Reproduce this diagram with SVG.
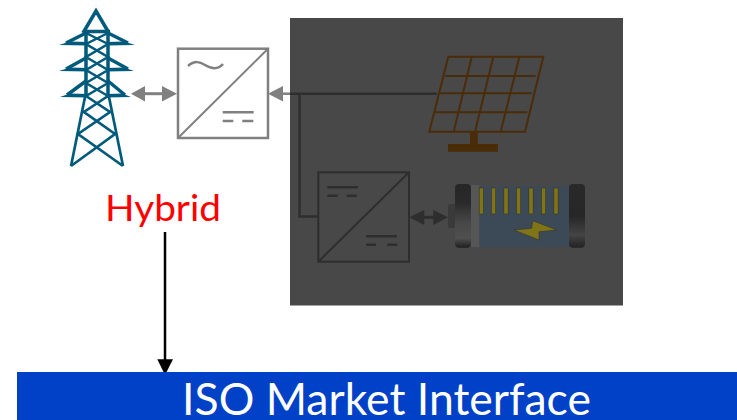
<svg xmlns="http://www.w3.org/2000/svg" width="737" height="420" viewBox="0 0 737 420">
<style>
.tw{fill:none;stroke:#005a7c;stroke-linejoin:miter}
.gc{fill:none;stroke:#808080;stroke-width:2.500}
.dc{fill:none;stroke:#2e2e2e;stroke-width:2.500}
.sol{fill:none;stroke:#4a2c08;stroke-width:2}
.bar{fill:#7f7418;stroke:#2e2e22;stroke-width:.5}
text{font-family:"Lato","Open Sans","Liberation Sans",sans-serif}
</style>
<defs>
<linearGradient id="capL" x1="0" y1="0" x2="0" y2="1"><stop offset="0" stop-color="#262626"/><stop offset=".3" stop-color="#2a2a2a"/><stop offset=".6" stop-color="#474747"/><stop offset=".85" stop-color="#505050"/><stop offset="1" stop-color="#1e1e1e"/></linearGradient>
<linearGradient id="capR" x1="0" y1="0" x2="0" y2="1"><stop offset="0" stop-color="#2a2a2a"/><stop offset=".5" stop-color="#262626"/><stop offset=".8" stop-color="#444"/><stop offset="1" stop-color="#222"/></linearGradient>
</defs>
<rect width="737" height="420" fill="#fff"/>
<rect id="shade" x="290" y="18" width="333" height="287.500" fill="#484848"/>
<g id="connectors">
<path class="gc" style="stroke-width:3" d="M143,93.700H165"/>
<path fill="#808080" d="M131,93.700L145,86V101.500ZM177,93.700L162,86V101.500Z"/>
<path fill="#808080" d="M268,93.700L283,86V101.500Z"/>
<path class="gc" d="M282,93.700H290"/>
<path class="dc" d="M290,93.700H437M299.500,93.700V216.500H318"/>
<path class="dc" style="stroke-width:3" d="M420,217.300H438"/>
<path fill="#2e2e2e" d="M409.300,217.300L424.300,210V225ZM448,217.300L433.300,210V225Z"/>
<path fill="none" stroke="#000" stroke-width="2.500" d="M165,232V362"/>
<path fill="#000" d="M157.300,359.300H173L165,375Z"/>
</g>
<g id="tower">
<path class="tw" stroke-width="3.500" d="M83,33L96,11L109,33M84,31.500H110"/>
<path class="tw" stroke-width="3.500" d="M86,30V96M108,30V96"/>
<path class="tw" stroke-width="3.500" d="M86,33L66,43M108,33L128,43M86,58L66,69M108,58L128,69M86,81L67,95M108,81L125,95"/>
<path fill="#005a7c" d="M59,45L70,41.500L88,42V45.500ZM135,45L124,41.500L106,42V45.500ZM59,71L70,67.500L88,68V71.500ZM134,71L124,67.500L106,68V71.500ZM60,97L70,93.500L88,94V97.500ZM131,97L122,93.500L106,94V97.500Z"/>
<path class="tw" stroke-width="2.500" d="M86,33L108,44L86,57L108,70L86,83L108,96M108,33L86,44L108,57L86,70L108,83L86,96"/>
<path class="tw" stroke-width="2.700" d="M85,97L71,166M109,97L123,166M71,166L115,134L84,112L108,96M123,166L78,134L110,112L86,96"/>
</g>
<g id="converter-ac-dc">
<rect class="gc" x="178" y="48.700" width="90" height="89.300"/>
<path class="gc" style="stroke-width:2" d="M178,138L268,48.700"/>
<path class="gc" d="M188,66C195,60 200,62 205,65S217,71 223,64M222.700,112.300H253.700"/>
<path class="gc" d="M222.700,121H233.300M242.300,121H253.300"/>
</g>
<g id="solar-panel">
<path class="sol" d="M448.300,56.700H543.300L525,131.700H429.300ZM445,76H535.700M440,93.300H531.700M435,112.300H527.300M471.700,57L453.700,131.700M493.300,57L475,131.700M519.300,57L500.700,131.700"/>
<path fill="#4a2c08" d="M470,132H477.700V144H498V151.700H448V144H470Z"/>
</g>
<g id="converter-dc-dc">
<rect class="dc" style="stroke-width:2" x="318.300" y="172.300" width="90.700" height="89.400"/>
<path class="dc" style="stroke-width:2" d="M318.300,261.700L409,172.300"/>
<path class="dc" d="M327.300,187.300H358M327.300,195.700H337.700M346.700,195.700H356.700M366,236.300H397M366,244.700H376M387.300,244.700H397.300"/>
</g>
<g id="battery">
<rect x="448" y="204" width="8" height="24" rx="2" fill="#3a3a3a"/>
<rect x="470" y="186" width="100" height="61" fill="#3c4a58"/>
<rect x="470.700" y="185" width="8.600" height="62" fill="#565656"/>
<rect x="455" y="184" width="16" height="63.700" rx="4" fill="url(#capL)"/>
<rect x="569" y="184" width="16" height="63.700" rx="4" fill="url(#capR)"/>
<rect class="bar" x="479.200" y="188" width="4.200" height="26"/>
<rect class="bar" x="491.500" y="188" width="4.200" height="26"/>
<rect class="bar" x="503.900" y="188" width="4.200" height="26"/>
<rect class="bar" x="516.500" y="188" width="4.200" height="26"/>
<rect class="bar" x="528.900" y="188" width="4.200" height="26"/>
<rect class="bar" x="541.500" y="188" width="4.200" height="26"/>
<rect class="bar" x="553.900" y="188" width="4.200" height="26"/>
<path class="bar" d="M514,230L531.700,228.300L532.700,220.700L556.700,230L539,231.700L539,240Z"/>
</g>
<g id="hybrid-label">
<text x="105" y="220.500" font-size="37" fill="#ff0000" textLength="116" lengthAdjust="spacingAndGlyphs">Hybrid</text>
</g>
<g id="iso-interface">
<rect x="17" y="372" width="720" height="48" fill="#0041c8"/>
<text x="182" y="415" font-size="44" fill="#fff" textLength="409" lengthAdjust="spacingAndGlyphs">ISO Market Interface</text>
</g>
</svg>
